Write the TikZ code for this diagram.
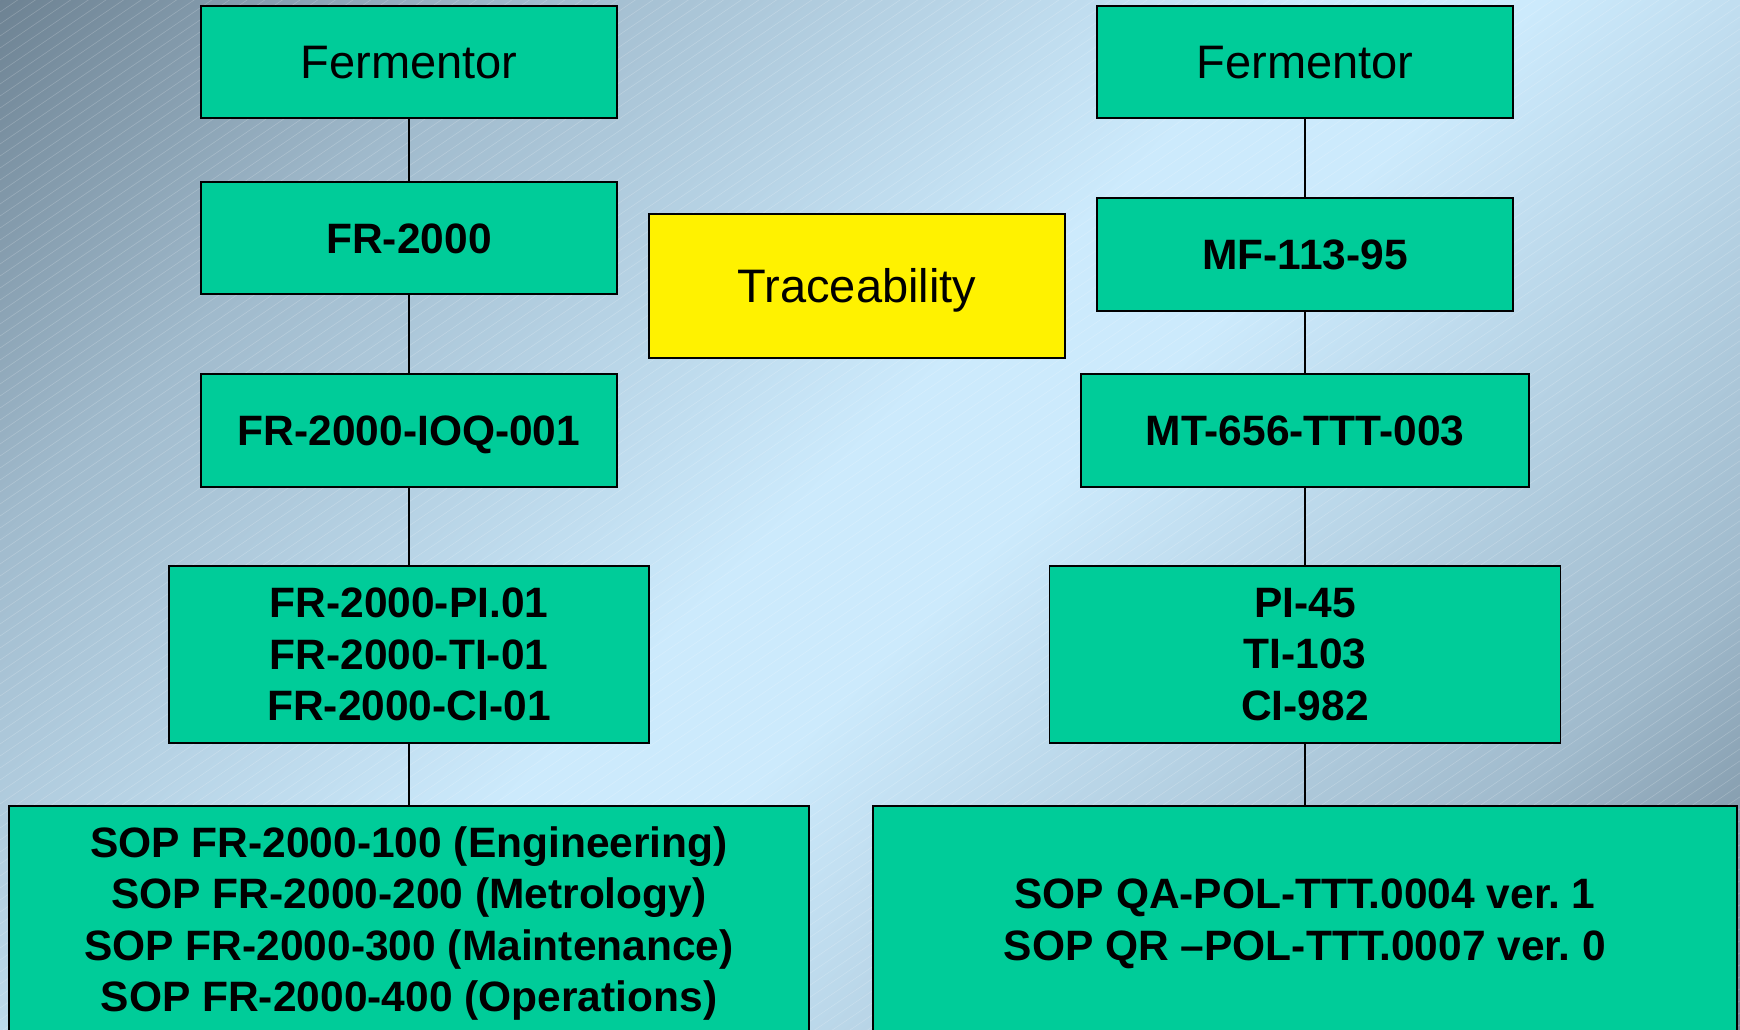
\documentclass[tikz,border=0pt]{standalone}
\usepackage{fontspec}
\setmainfont{Liberation Sans}
\frenchspacing
\definecolor{boxgreen}{RGB}{0,204,153}
\definecolor{bgdark}{RGB}{100,120,136}
\definecolor{bgmid}{RGB}{160,186,204}
\definecolor{bglight}{RGB}{204,234,252}
\pgfdeclarehorizontalshading{bgshade}{100bp}{color(0bp)=(bgdark); color(12bp)=(bgdark); color(28bp)=(bgmid); color(48bp)=(bglight); color(54bp)=(bglight); color(74bp)=(bgmid); color(88bp)=(bgdark); color(100bp)=(bgdark)}
\tikzset{
  box/.style={draw=black, line width=1.5pt, fill=boxgreen, inner sep=0pt, align=center,
    font=\bfseries\fontsize{42.5}{51.5}\selectfont},
  onebox/.style={box, text height=30.4pt, text depth=0pt},
  plainbox/.style={box, font=\fontsize{47}{56}\selectfont, text height=33.6pt, text depth=0pt},
  tracebox/.style={plainbox, fill=yellow},
  link/.style={draw=black, line width=1.3pt},
  hatch/.style={draw=white, line width=0.6pt, opacity=0.2}
}
\begin{document}
\begin{tikzpicture}[x=1pt,y=-1pt]
\useasboundingbox (0,0) rectangle (1740,1029);
\shade[shading=bgshade, shading angle=-45] (0,0) rectangle (1740,1029);
\begin{scope}
\clip (0,0) rectangle (1740,1029);
\foreach \c in {0,12,...,2220} {
  \draw[hatch] (0,\c) -- (1740,\c-1183.2);
}
\end{scope}
% left column
\node[plainbox, minimum width=416pt, minimum height=112pt] (lf1) at (409,62) {Fermentor};
\node[onebox, minimum width=416pt, minimum height=112pt] (lf2) at (409,238) {FR-2000};
\node[onebox, minimum width=416pt, minimum height=113pt] (lf3) at (409,430.5) {FR-2000-IOQ-001};
\node[box, minimum width=480pt, minimum height=177pt] (lf4) at (409,654.5) {FR-2000-PI.01\\FR-2000-TI-01\\FR-2000-CI-01};
\node[box, minimum width=800pt, minimum height=235pt] (lf5) at (409,923.5) {SOP FR-2000-100 (Engineering)\\SOP FR-2000-200 (Metrology)\\SOP FR-2000-300 (Maintenance)\\SOP FR-2000-400 (Operations)};
% right column
\node[plainbox, minimum width=416pt, minimum height=112pt] (rf1) at (1305,62) {Fermentor};
\node[onebox, minimum width=416pt, minimum height=113pt] (rf2) at (1305,254.5) {MF-113-95};
\node[onebox, minimum width=448pt, minimum height=113pt] (rf3) at (1305,430.5) {MT-656-TTT-003};
\node[box, minimum width=511pt, minimum height=177pt] (rf4) at (1305,654.5) {PI-45\\TI-103\\CI-982};
\node[box, minimum width=864pt, minimum height=236pt] (rf5) at (1305,924) {SOP QA-POL-TTT.0004 ver. 1\\SOP QR –POL-TTT.0007 ver. 0};
% traceability
\node[tracebox, minimum width=416pt, minimum height=144pt] (trace) at (857,286) {Traceability};
% connectors
\draw[link] (lf1.south) -- (lf2.north);
\draw[link] (lf2.south) -- (lf3.north);
\draw[link] (lf3.south) -- (lf4.north);
\draw[link] (lf4.south) -- (lf5.north);
\draw[link] (rf1.south) -- (rf2.north);
\draw[link] (rf2.south) -- (rf3.north);
\draw[link] (rf3.south) -- (rf4.north);
\draw[link] (rf4.south) -- (rf5.north);
\end{tikzpicture}
\end{document}
